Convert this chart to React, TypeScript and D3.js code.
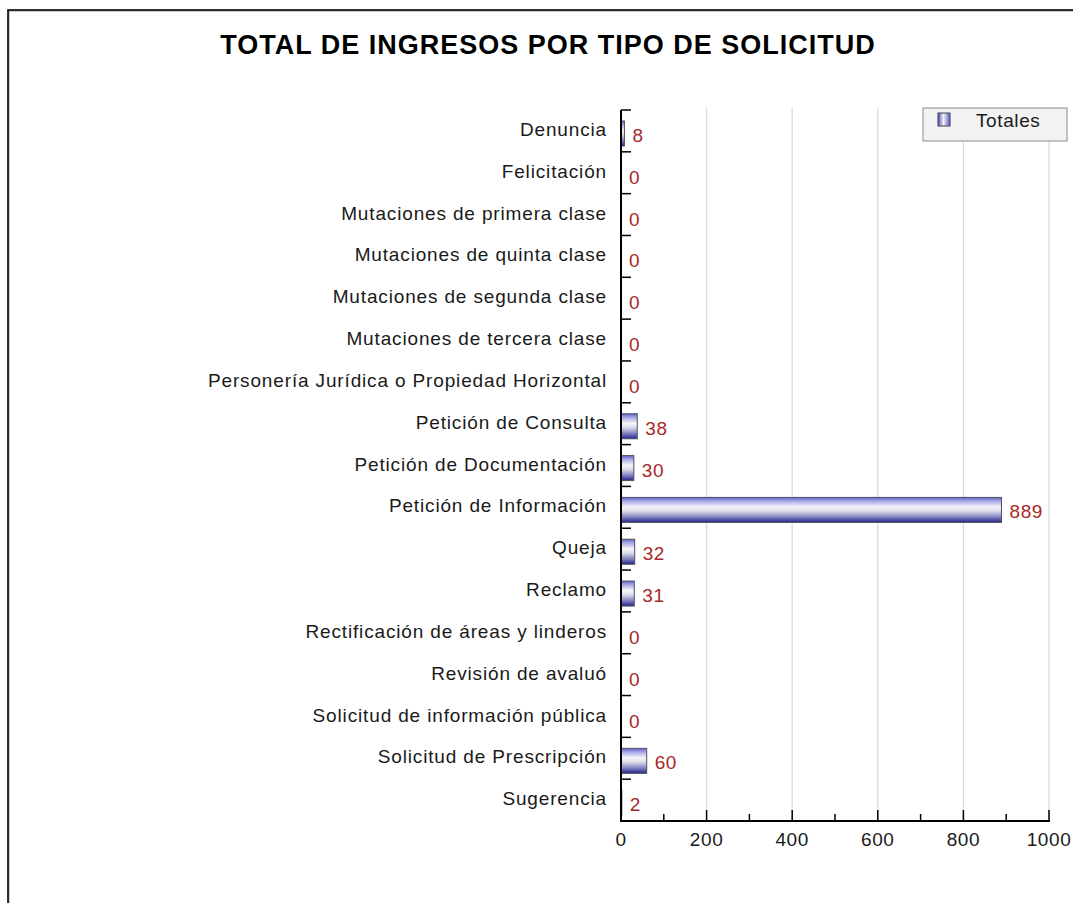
import * as d3 from "d3";

const categories = [
  "Denuncia",
  "Felicitación",
  "Mutaciones de primera clase",
  "Mutaciones de quinta clase",
  "Mutaciones de segunda clase",
  "Mutaciones de tercera clase",
  "Personería Jurídica o Propiedad Horizontal",
  "Petición de Consulta",
  "Petición de Documentación",
  "Petición de Información",
  "Queja",
  "Reclamo",
  "Rectificación de áreas y linderos",
  "Revisión de avaluó",
  "Solicitud de información pública",
  "Solicitud de Prescripción",
  "Sugerencia",
];
const totales = [8, 0, 0, 0, 0, 0, 0, 38, 30, 889, 32, 31, 0, 0, 0, 60, 2];
const majorTicks = [0, 200, 400, 600, 800, 1000];
const minorTicks = [100, 300, 500, 700, 900];

const W = 1073;
const H = 903;
const FONT = "'Liberation Sans', Arial, Helvetica, sans-serif";

export default function App() {
  const x = d3.scaleLinear().domain([0, 1000]).range([621, 1049]);
  const y = d3.scaleBand<string>().domain(categories).range([110, 821]);
  const barH = 25;
  const bottom = 821;

  return (
    <svg
      width={W}
      height={H}
      style={{ position: "absolute", left: 0, top: 0, background: "#fff" }}
      fontFamily={FONT}
    >
      <defs>
        <linearGradient id="barGrad" x1="0" y1="0" x2="0" y2="1">
          <stop offset="0%" stopColor="#6464c8" />
          <stop offset="15%" stopColor="#a8a8e6" />
          <stop offset="38%" stopColor="#f6f6fa" />
          <stop offset="55%" stopColor="#dcdce8" />
          <stop offset="80%" stopColor="#7c7cc0" />
          <stop offset="100%" stopColor="#24248a" />
        </linearGradient>
        <linearGradient id="legGrad" x1="0" y1="0" x2="1" y2="0">
          <stop offset="0%" stopColor="#4848b0" />
          <stop offset="45%" stopColor="#f4f4fa" />
          <stop offset="100%" stopColor="#5c5cc0" />
        </linearGradient>
      </defs>

      {/* frame */}
      <rect x={9} y={11} width={W + 20} height={H + 20} fill="none" stroke="#999" strokeWidth={1} />
      <rect x={8} y={10} width={W + 20} height={H + 20} fill="none" stroke="#000" strokeWidth={1.6} />

      <text
        x={548}
        y={54}
        textAnchor="middle"
        fontSize={27}
        fontWeight="bold"
        letterSpacing={1}
        fill="#000"
      >
        TOTAL DE INGRESOS POR TIPO DE SOLICITUD
      </text>

      {/* grid */}
      {majorTicks.slice(1).map((t) => (
        <line key={"g" + t} x1={x(t)} x2={x(t)} y1={108} y2={bottom} stroke="#dcdcdc" strokeWidth={1.3} />
      ))}

      {/* bars */}
      {categories.map((c, i) => {
        const y0 = y(c)! + 11;
        const v = totales[i];
        return (
          <g key={c}>
            {v > 0 && (
              <rect
                x={x(0)}
                y={y0}
                width={x(v) - x(0)}
                height={barH}
                fill="url(#barGrad)"
                stroke="#505060"
                strokeWidth={1}
              />
            )}
            <text x={x(v) + 8} y={y(c)! + 32} fontSize={19} letterSpacing={0.6} fill="#a82828">
              {v}
            </text>
            <text
              x={607}
              y={y(c)! + 26}
              textAnchor="end"
              fontSize={19}
              letterSpacing={0.85}
              fill="#1a1a1a"
            >
              {c}
            </text>
          </g>
        );
      })}

      {/* y axis */}
      <line x1={x(0)} x2={x(0)} y1={110} y2={bottom} stroke="#000" strokeWidth={2} />
      {categories.map((c) => (
        <line key={"t" + c} x1={x(0)} x2={x(0) + 10} y1={y(c)!} y2={y(c)!} stroke="#000" strokeWidth={1.5} />
      ))}

      {/* x axis */}
      <line x1={x(0) - 1} x2={x(1000) + 1} y1={bottom} y2={bottom} stroke="#000" strokeWidth={2} />
      {majorTicks.slice(1).map((t) => (
        <line key={"M" + t} x1={x(t)} x2={x(t)} y1={bottom} y2={bottom - 11} stroke="#000" strokeWidth={1.5} />
      ))}
      {minorTicks.map((t) => (
        <line key={"m" + t} x1={x(t)} x2={x(t)} y1={bottom} y2={bottom - 7} stroke="#000" strokeWidth={1.5} />
      ))}
      {majorTicks.map((t) => (
        <text key={"l" + t} x={x(t)} y={bottom + 25} textAnchor="middle" fontSize={19} letterSpacing={0.6} fill="#1a1a1a">
          {t}
        </text>
      ))}

      {/* legend */}
      <rect x={923} y={108} width={144} height={33} fill="#f2f2f2" stroke="#8a8a8a" strokeWidth={1} />
      <rect x={938} y={113} width={12} height={13} fill="url(#legGrad)" stroke="#404050" strokeWidth={1} />
      <text x={976} y={127} fontSize={19} letterSpacing={0.6} fill="#1a1a1a">
        Totales
      </text>
    </svg>
  );
}
